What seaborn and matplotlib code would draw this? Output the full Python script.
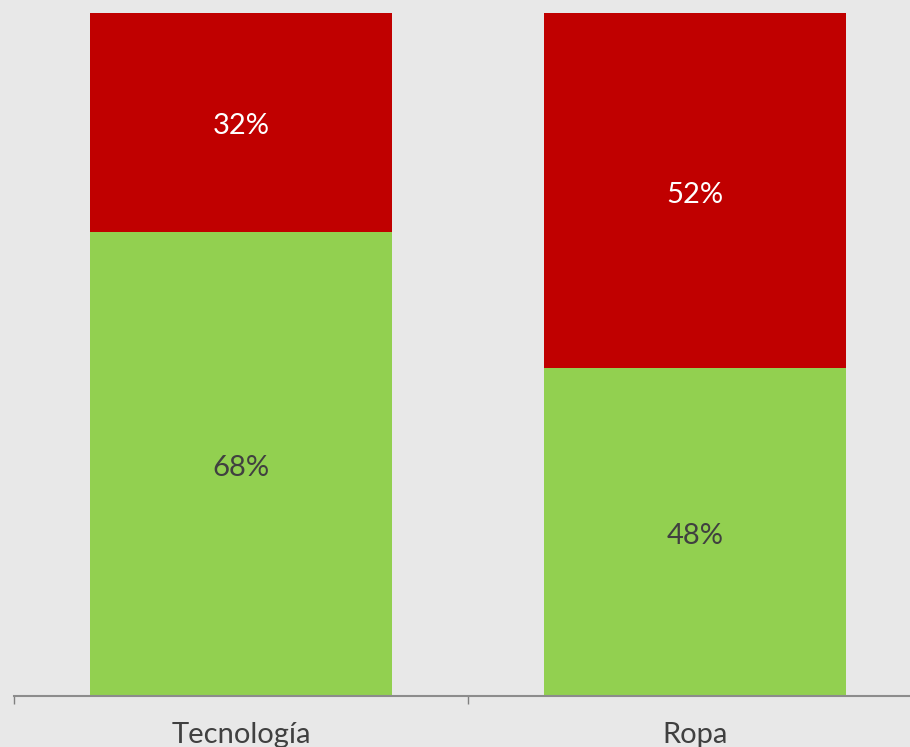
import pandas as pd
import matplotlib
matplotlib.use("Agg")
import matplotlib.pyplot as plt
import seaborn as sns

categorias = ["Tecnología", "Ropa"]
verde = [68, 48]
rojo = [32, 52]

df = pd.DataFrame({"Categoria": categorias, "Verde": verde, "Rojo": rojo})
df["Total"] = df["Verde"] + df["Rojo"]

sns.set_theme(style="white")
plt.rcParams["font.family"] = ["Lato", "DejaVu Sans"]

fondo = "#E8E8E8"
fig = plt.figure(figsize=(9.1, 7.47), dpi=100, facecolor=fondo)
ax = fig.add_axes([14 / 910, 51 / 747, 908 / 910, 683 / 747])
ax.set_facecolor(fondo)

sns.barplot(data=df, x="Categoria", y="Total", color="#C00000", width=0.665,
            saturation=1, linewidth=0, ax=ax, order=categorias)
sns.barplot(data=df, x="Categoria", y="Verde", color="#92D050", width=0.665,
            saturation=1, linewidth=0, ax=ax, order=categorias)

for i, (v, r) in enumerate(zip(verde, rojo)):
    ax.text(i, v / 2 - 0.6, f"{v}%", ha="center", va="center", fontsize=21, color="#404040")
    ax.text(i, v + r / 2 - 0.6, f"{r}%", ha="center", va="center", fontsize=21, color="white")

ax.set_xlim(-0.5, 1.5)
ax.set_ylim(0, 100)
ax.set_yticks([])
ax.set_xticks([-0.5, 0.5, 1.5])
ax.set_xticklabels([])
ax.set_xticks([0, 1], minor=True)
ax.set_xticklabels(categorias, minor=True, fontsize=21, color="#404040")
ax.tick_params(axis="x", which="major", direction="out", length=6, width=1,
               color="#808080", bottom=True)
ax.tick_params(axis="x", which="minor", length=0, pad=19)
ax.set_xlabel("")
ax.set_ylabel("")

for lado in ["top", "right", "left"]:
    ax.spines[lado].set_visible(False)
ax.spines["bottom"].set_color("#8C8C8C")
ax.spines["bottom"].set_linewidth(1.5)

fig.savefig("out.png", dpi=100, facecolor=fondo)
